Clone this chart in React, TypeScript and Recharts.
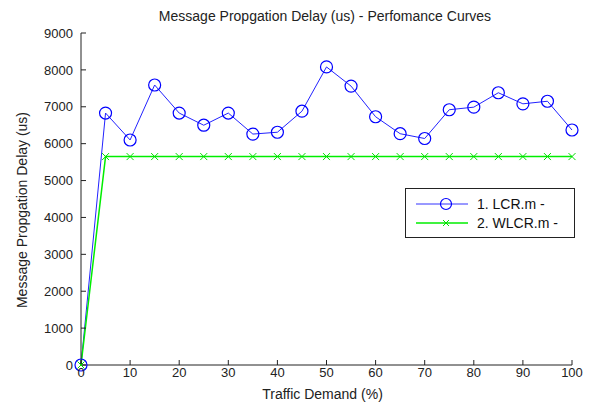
import React from 'react';
import { LineChart, Line, XAxis, YAxis } from 'recharts';

const demand = [0, 5, 10, 15, 20, 25, 30, 35, 40, 45, 50, 55, 60, 65, 70, 75, 80, 85, 90, 95, 100];
const lcrDelay = [0, 6830, 6100, 7590, 6830, 6500, 6830, 6260, 6310, 6880, 8080, 7560, 6730, 6270, 6140, 6920, 6990, 7380, 7080, 7150, 6370];
const wlcrDelay = [0, 5650, 5650, 5650, 5650, 5650, 5650, 5650, 5650, 5650, 5650, 5650, 5650, 5650, 5650, 5650, 5650, 5650, 5650, 5650, 5650];
const xTicks = [0, 10, 20, 30, 40, 50, 60, 70, 80, 90, 100];
const yTicks = [0, 1000, 2000, 3000, 4000, 5000, 6000, 7000, 8000, 9000];

const data = demand.map((d, i) => ({ demand: d, lcr: lcrDelay[i], wlcr: wlcrDelay[i] }));

const FONT = '"Liberation Sans", Arial, sans-serif';

const CircleDot = (props: any) => {
    const { cx, cy } = props;
    if (cx == null || cy == null) return null;
    return <circle cx={cx} cy={cy} r={6} fill="none" stroke="#0000ff" strokeWidth={1.2} />;
};

const CrossDot = (props: any) => {
    const { cx, cy } = props;
    if (cx == null || cy == null) return null;
    const s = 3.5;
    return (
        <g stroke="#00dd00" strokeWidth={1}>
            <line x1={cx - s} y1={cy - s} x2={cx + s} y2={cy + s} />
            <line x1={cx - s} y1={cy + s} x2={cx + s} y2={cy - s} />
        </g>
    );
};

// legend drawn by hand, placed like the matlab one
const LegendBox = () => (
    <div style={{ position: 'absolute', left: 405, top: 188, width: 170, height: 50, border: '1.5px solid #222', background: '#fff', boxSizing: 'border-box' }}>
        <svg width={167} height={47} style={{ display: 'block' }}>
            <line x1={10} y1={15} x2={62} y2={15} stroke="#3333ff" strokeWidth={1} />
            <circle cx={40} cy={15} r={5.5} fill="none" stroke="#0000ff" strokeWidth={1.2} />
            <text x={71} y={20} fill="#111" fontSize={14} fontFamily={FONT}>1. LCR.m -</text>
            <line x1={10} y1={34} x2={62} y2={34} stroke="#00ee00" strokeWidth={1.5} />
            <g stroke="#00dd00" strokeWidth={1}>
                <line x1={37} y1={31} x2={43} y2={37} />
                <line x1={37} y1={37} x2={43} y2={31} />
            </g>
            <text x={71} y={39} fill="#111" fontSize={14} fontFamily={FONT}>2. WLCR.m -</text>
        </svg>
    </div>
);

const App: React.FC = () => {
    return (
        <div style={{ position: 'absolute', left: 0, top: 0, width: 589, height: 406, background: '#fff' }}>
            <LineChart width={589} height={406} data={data} margin={{ top: 33, right: 17, left: 20, bottom: 15 }}>
                <XAxis
                    dataKey="demand"
                    type="number"
                    domain={[0, 100]}
                    ticks={xTicks}
                    height={26}
                    tickSize={-5}
                    tickMargin={8}
                    stroke="#222"
                    tick={{ fill: '#222', fontSize: 13, fontFamily: FONT }}
                />
                <YAxis
                    type="number"
                    domain={[0, 9000]}
                    ticks={yTicks}
                    width={61}
                    tickSize={-5}
                    tickMargin={13}
                    stroke="#222"
                    tick={{ fill: '#222', fontSize: 13, fontFamily: FONT }}
                />
                <Line
                    name="1. LCR.m -"
                    dataKey="lcr"
                    stroke="#2222ff"
                    strokeWidth={1}
                    dot={<CircleDot />}
                    isAnimationActive={false}
                />
                <Line
                    name="2. WLCR.m -"
                    dataKey="wlcr"
                    stroke="#00ee00"
                    strokeWidth={1.5}
                    dot={<CrossDot />}
                    isAnimationActive={false}
                />
            </LineChart>
            <div style={{ position: 'absolute', left: 0, width: 650, top: 8, textAlign: 'center', fontFamily: FONT, fontSize: 14, color: '#222' }}>
                Message Propgation Delay (us) - Perfomance Curves
            </div>
            <div style={{ position: 'absolute', left: 0, width: 645, top: 386, textAlign: 'center', fontFamily: FONT, fontSize: 14, color: '#222' }}>
                Traffic Demand (%)
            </div>
            <div style={{ position: 'absolute', left: 22, top: 211, width: 0, height: 0 }}>
                <div style={{ position: 'absolute', left: -150, top: -9, width: 300, textAlign: 'center', transform: 'rotate(-90deg)', fontFamily: FONT, fontSize: 14, color: '#222', whiteSpace: 'nowrap' }}>
                    Message Propgation Delay (us)
                </div>
            </div>
            <LegendBox />
        </div>
    );
};

export default App;
